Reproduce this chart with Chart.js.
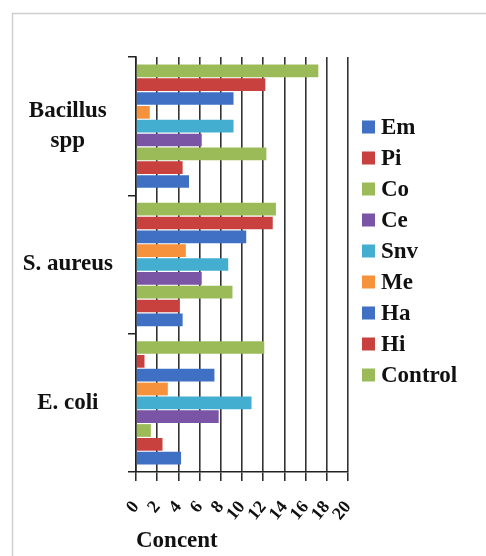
<!DOCTYPE html>
<html>
<head>
<meta charset="utf-8">
<script src="https://cdn.jsdelivr.net/npm/chart.js@4.4.1/dist/chart.umd.min.js"></script>
<style>
  html, body { margin: 0; padding: 0; background: #ffffff; }
  #wrap { position: relative; width: 486px; height: 556px; }
  canvas { display: block; }
</style>
</head>
<body>
<div id="wrap"><canvas id="chart" width="486" height="556"></canvas></div>
<script>
// Organisms, listed top to bottom
const categories = [['Bacillus', 'spp'], 'S. aureus', 'E. coli'];

// Values per organism: [Bacillus spp, S. aureus, E. coli]
const em      = [5.0, 4.4, 4.25];
const pi      = [4.4, 4.1, 2.5];
const co      = [12.3, 9.1, 1.4];
const ce      = [6.2, 6.2, 7.8];
const snv     = [9.2, 8.7, 10.9];
const me      = [1.3, 4.7, 3.0];
const ha      = [9.2, 10.4, 7.4];
const hi      = [12.2, 12.9, 0.8];
const control = [17.2, 13.2, 12.1];

// Concentration axis tick labels
const xTickValues = [0, 2, 4, 6, 8, 10, 12, 14, 16, 18, 20];

// Legend order (top to bottom)
const seriesNames = ['Em', 'Pi', 'Co', 'Ce', 'Snv', 'Me', 'Ha', 'Hi', 'Control'];
const seriesValues = [em, pi, co, ce, snv, me, ha, hi, control];

const BLUE = '#3f70c4', RED = '#c8413f', GREEN = '#9bbb59',
      PURPLE = '#7b55a5', TEAL = '#43aed0', ORANGE = '#f6923c';
const seriesColors = [BLUE, RED, GREEN, PURPLE, TEAL, ORANGE, BLUE, RED, GREEN];

const SERIF = "'Liberation Serif', 'Times New Roman', serif";

// Bars are stacked top to bottom inside each group: last series first
const datasets = seriesNames.map((name, i) => ({
  label: name,
  data: seriesValues[i],
  backgroundColor: seriesColors[i],
  borderWidth: 0,
  categoryPercentage: 0.9,
  barPercentage: 0.92
})).reverse();

// Frame around the whole figure
const framePlugin = {
  id: 'frame',
  beforeDraw(chart) {
    const ctx = chart.ctx;
    ctx.save();
    ctx.fillStyle = '#ffffff';
    ctx.fillRect(0, 0, chart.width, chart.height);
    ctx.strokeStyle = '#cfcfcf';
    ctx.lineWidth = 1.5;
    ctx.strokeRect(12.5, 13.5, chart.width + 20, chart.height + 20);
    ctx.restore();
  }
};

// Legend column on the right, in series order
const sideLegend = {
  id: 'sideLegend',
  afterDraw(chart) {
    const ctx = chart.ctx;
    const x0 = chart.chartArea.right + 14;
    const y0 = 127, step = 31, box = 13;
    ctx.save();
    ctx.font = 'bold 23px ' + SERIF;
    ctx.textBaseline = 'middle';
    ctx.textAlign = 'left';
    const items = chart.data.datasets.slice().reverse();
    items.forEach((ds, i) => {
      const y = y0 + i * step;
      ctx.fillStyle = ds.backgroundColor;
      ctx.fillRect(x0, y - box / 2, box, box);
      ctx.fillStyle = '#111111';
      ctx.fillText(ds.label, x0 + box + 6, y + 1);
    });
    ctx.restore();
  }
};

new Chart(document.getElementById('chart'), {
  type: 'bar',
  data: { labels: categories, datasets },
  options: {
    indexAxis: 'y',
    responsive: false,
    animation: false,
    devicePixelRatio: 1,
    layout: { padding: { left: 12, top: 57, right: 138, bottom: 0 } },
    plugins: {
      legend: { display: false },
      tooltip: { enabled: false },
      title: { display: false }
    },
    scales: {
      x: {
        type: 'linear',
        min: 0,
        max: 20,
        afterBuildTicks(scale) {
          scale.ticks = xTickValues.map(v => ({ value: v }));
        },
        afterFit(scale) { scale.height = 84; },
        ticks: {
          autoSkip: false,
          minRotation: 50,
          maxRotation: 50,
          padding: 16,
          color: '#111111',
          font: { family: SERIF, size: 18, weight: 'bold' }
        },
        grid: {
          color: '#333333',
          lineWidth: 1.6,
          tickLength: 9,
          tickColor: '#222222',
          tickWidth: 1.5
        },
        border: { display: true, color: '#222222', width: 1.6 },
        title: {
          display: true,
          text: 'Concent',
          align: 'start',
          color: '#111111',
          font: { family: SERIF, size: 23, weight: 'bold' },
          padding: { top: 0, bottom: 1 }
        }
      },
      y: {
        type: 'category',
        afterFit(scale) { scale.width = 124; },
        ticks: {
          crossAlign: 'center',
          padding: 15,
          color: '#111111',
          font: { family: SERIF, size: 23, weight: 'bold', lineHeight: 1.3 }
        },
        grid: {
          drawOnChartArea: false,
          tickLength: 8,
          color: '#222222',
          lineWidth: 1.5
        },
        border: { display: true, color: '#222222', width: 1.6 }
      }
    }
  },
  plugins: [framePlugin, sideLegend]
});
</script>
</body>
</html>
